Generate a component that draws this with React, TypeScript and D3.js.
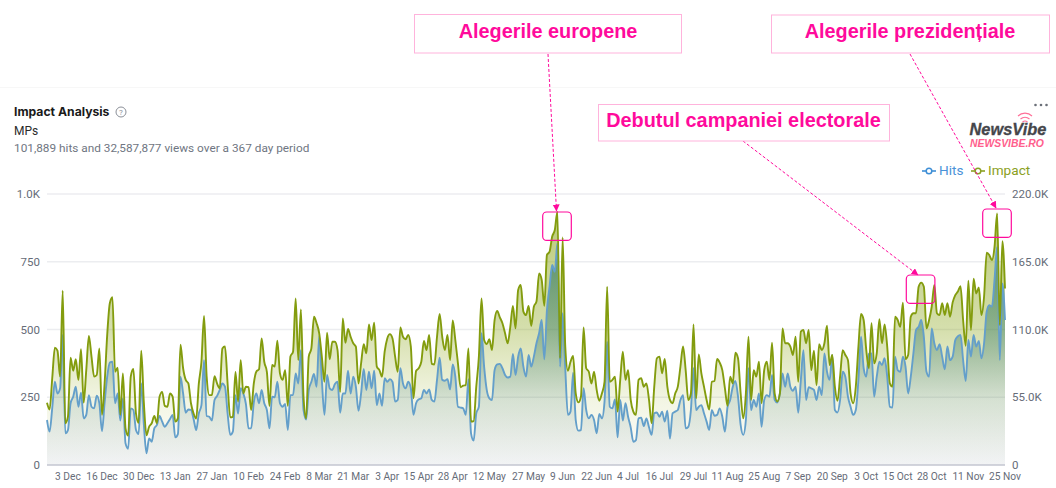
import React from "react";
import * as d3 from "d3";

const startDate = "2023-11-25";
const tickDates = ["2023-12-03","2023-12-16","2023-12-30","2024-01-13","2024-01-27","2024-02-10","2024-02-24","2024-03-08","2024-03-21","2024-04-03","2024-04-15","2024-04-28","2024-05-12","2024-05-27","2024-06-09","2024-06-22","2024-07-04","2024-07-16","2024-07-29","2024-08-11","2024-08-25","2024-09-07","2024-09-20","2024-10-03","2024-10-15","2024-10-28","2024-11-11","2024-11-25"];
const leftTicks = [0, 250, 500, 750, 1000];
const rightTicks = [0, 55000, 110000, 165000, 220000];

const hits = [
166,123,210,307,264,283,480,117,129,228,
252,289,215,267,172,185,258,215,209,256,
228,125,230,326,378,381,228,264,164,246,
80,60,209,203,129,114,301,150,43,98,
86,135,148,181,160,141,154,170,185,102,
114,326,264,193,205,203,170,129,190,221,
387,181,178,164,240,255,277,301,289,190,
111,123,258,190,283,264,225,135,135,230,
264,228,277,228,203,135,252,250,307,228,
215,225,129,258,258,338,301,424,203,168,
277,307,336,289,476,314,185,332,283,277,
299,307,193,264,264,348,264,326,289,200,
264,354,277,344,283,348,221,264,218,320,
307,317,307,234,240,357,301,283,307,283,
185,228,242,246,277,264,279,240,234,314,
396,314,311,317,279,371,326,215,212,209,
185,317,117,90,191,215,486,363,277,246,
240,350,371,373,357,332,323,326,410,332,
400,430,363,326,406,363,400,449,486,535,
390,572,658,738,713,818,363,560,357,185,
197,341,166,127,129,283,203,172,185,166,
117,188,172,234,455,215,209,242,102,240,
164,228,178,139,86,92,172,175,144,172,
139,111,191,194,178,197,160,200,98,191,
197,203,240,258,135,141,203,357,203,215,
221,191,160,129,203,182,185,209,178,123,
215,240,289,310,252,148,111,166,357,203,
240,215,264,141,240,258,252,332,240,230,
264,338,289,338,289,274,289,193,314,424,
240,287,283,277,240,289,258,412,344,314,
406,203,194,240,344,326,252,215,185,203,
314,473,357,326,412,412,252,326,381,369,
394,326,215,212,400,350,344,400,363,264,
326,412,498,510,535,473,344,326,504,449,
424,446,400,353,437,387,400,461,475,480,
387,310,461,400,480,437,458,394,449,566,
590,584,683,805,387,670,535,
];

// Impact readings, in thousandths of the right-hand axis maximum
const impactReadings = [
230,205,320,433,422,326,643,154,178,396,
348,390,314,427,230,350,476,400,326,332,
430,185,300,480,597,619,344,359,185,338,
135,108,326,354,190,156,422,230,110,141,
154,181,154,252,270,218,215,264,252,160,
172,444,357,314,301,228,190,171,300,380,
550,326,258,258,328,300,283,430,437,300,
176,178,343,234,387,264,289,287,203,300,
345,353,467,381,344,218,369,363,459,338,
314,350,218,400,418,615,387,574,252,172,
400,430,547,523,486,400,307,488,390,455,
455,424,270,541,451,502,473,449,437,301,
375,446,412,519,461,525,363,350,326,418,
467,483,467,400,344,508,473,464,480,437,
246,347,357,381,458,424,480,373,371,473,
557,473,424,480,387,533,461,375,287,293,
295,430,160,162,289,400,615,461,446,464,
424,535,568,545,523,486,449,510,587,504,
646,664,566,553,587,513,584,603,707,683,
587,775,787,843,867,935,394,840,437,348,
381,402,264,231,252,508,357,344,301,344,
277,237,264,307,658,307,314,326,197,314,
418,314,350,240,197,185,314,320,289,301,
240,154,289,394,400,338,391,289,240,228,
264,289,363,437,350,240,264,519,246,408,
338,289,240,205,307,310,391,378,350,283,
218,326,301,414,394,264,172,264,473,240,
350,326,381,228,350,381,314,451,264,234,
264,504,449,449,437,406,473,307,492,498,
449,498,350,422,295,446,424,449,514,369,
406,289,237,326,424,406,387,264,228,289,
437,557,535,424,357,523,375,412,538,449,
519,437,301,289,547,535,510,599,391,406,
547,560,560,658,673,658,504,535,584,664,
560,553,597,553,597,547,600,627,640,660,
535,440,680,498,687,633,655,553,621,783,
775,756,805,928,516,826,651,
];
const impact = impactReadings.map((v) => v * 220);

const annotations = [
  { text: "Alegerile europene", box: [414.5, 14.5, 267, 38.5], tx: 548, base: 38, from: [548, 54], to: [556.5, 211], size: 19.85 },
  { text: "Debutul campaniei electorale", box: [598.5, 104.5, 291, 36.5], tx: 743.5, base: 127, from: [743, 141], to: [918, 275], size: 19.85 },
  { text: "Alegerile prezidențiale", box: [771.5, 15, 278, 38], tx: 910, base: 38, from: [910, 54], to: [996, 208], size: 19.85 },
];
const highlights = [
  [542.7, 212], [906.3, 275], [982.7, 209],
];

const W = 1056, H = 488;
const FONT = "Roboto, Inter, sans-serif";
const parse = d3.utcParse("%Y-%m-%d");
const fmt = d3.utcFormat("%-d %b");
const start = parse(startDate) as Date;
const dates = hits.map((_, i) => d3.utcDay.offset(start, i));

const x = d3.scaleUtc().domain([start, dates[dates.length - 1]]).range([47, 1005]);
const yL = d3.scaleLinear().domain([0, 1000]).range([465, 194]);
const yR = d3.scaleLinear().domain([0, 220000]).range([465, 194]);

const lineOf = (vals: number[], y: d3.ScaleLinear<number, number>) =>
  d3.line<number>().x((_, i) => x(dates[i])).y((v) => y(v)).curve(d3.curveMonotoneX)(vals) as string;
const areaOf = (vals: number[], y: d3.ScaleLinear<number, number>) =>
  d3.area<number>().x((_, i) => x(dates[i])).y0(465).y1((v) => y(v)).curve(d3.curveMonotoneX)(vals) as string;
const fmtRight = (v: number) => (v === 0 ? "0" : (v / 1000).toFixed(1) + "K");
const fmtLeft = (v: number) => (v === 1000 ? "1.0K" : String(v));

const PINK = "#ff0a9c";
const OLIVE = "#839c0e";
const BLUE = "#649fca";

export default function App() {
  return (
    <svg width={W} height={H} style={{ position: "absolute", left: 0, top: 0, background: "#fff" }} fontFamily={FONT}>
      <defs>
        <linearGradient id="gi" gradientUnits="userSpaceOnUse" x1="0" y1="194" x2="0" y2="465">
          <stop offset="0" stopColor="#8aa51a" stopOpacity="0.62" />
          <stop offset="0.5" stopColor="#8aa51a" stopOpacity="0.36" />
          <stop offset="0.76" stopColor="#9db02a" stopOpacity="0.13" />
          <stop offset="1" stopColor="#9db02a" stopOpacity="0" />
        </linearGradient>
        <linearGradient id="gh" gradientUnits="userSpaceOnUse" x1="0" y1="194" x2="0" y2="465">
          <stop offset="0" stopColor="#1f6f5c" stopOpacity="0.78" />
          <stop offset="0.5" stopColor="#2b7460" stopOpacity="0.42" />
          <stop offset="0.76" stopColor="#3f7a78" stopOpacity="0.16" />
          <stop offset="1" stopColor="#6b7b8c" stopOpacity="0.09" />
        </linearGradient>
        <marker id="ah" markerWidth="8" markerHeight="8" refX="6.5" refY="3.5" orient="auto">
          <path d="M0,0 L7,3.5 L0,7 Z" fill={PINK} />
        </marker>
      </defs>

      <line x1="0" x2={W} y1="87.5" y2="87.5" stroke="#f7f7f7" />

      {leftTicks.slice(1).map((t) => (
        <line key={t} x1={47} x2={1005} y1={yL(t)} y2={yL(t)} stroke="#ecedf0" strokeWidth="1.3" />
      ))}
      <path d={areaOf(impact, yR)} fill="url(#gi)" />
      <path d={areaOf(hits, yL)} fill="url(#gh)" />
      <path d={lineOf(hits, yL)} fill="none" stroke={BLUE} strokeWidth="1.9" />
      <path d={lineOf(impact, yR)} fill="none" stroke={OLIVE} strokeWidth="1.9" />
      <line x1={47} x2={1005} y1={465} y2={465} stroke="#c3c6d1" strokeWidth="1.5" />

      {leftTicks.map((t) => (
        <text key={t} x={40} y={yL(t) + 4} textAnchor="end" fontSize="11.5" fill="#666c78">{fmtLeft(t)}</text>
      ))}
      {rightTicks.map((t) => (
        <text key={t} x={1012} y={yR(t) + 4} fontSize="11.5" fill="#666c78">{fmtRight(t)}</text>
      ))}
      {tickDates.map((d) => {
        const dt = parse(d) as Date;
        return (
          <text key={d} x={x(dt)} y={480} textAnchor="middle" fontSize="10.2" fill="#666c78">{fmt(dt)}</text>
        );
      })}

      <text x={14} y={116} fontSize="12.2" fontWeight="700" fill="#1a1a1a" fontFamily="Inter, Roboto, sans-serif">Impact Analysis</text>
      <circle cx={121} cy={112} r={5} fill="none" stroke="#8b8f98" strokeWidth="1" />
      <text x={121} y={115} textAnchor="middle" fontSize="8" fill="#8b8f98">?</text>
      <text x={14} y={135} fontSize="12" fill="#2b2b2b">MPs</text>
      <text x={14} y={152} fontSize="11.8" fill="#6f7682">101,889 hits and 32,587,877 views over a 367 day period</text>

      <g fill="#6b7078">
        <circle cx={1035.5} cy={105} r={1.3} /><circle cx={1041} cy={105} r={1.3} /><circle cx={1046.5} cy={105} r={1.3} />
      </g>
      <g fill="none" stroke="#ff6f98" strokeWidth="1.1">
        <path d="M1018,116 A10,10 0 0 1 1032,116" />
        <path d="M1020.5,119 A7,7 0 0 1 1029.5,119" />
        <path d="M1022.5,122 A4,4 0 0 1 1027.5,122" />
      </g>
      <text x={969.5} y={135} fontSize="16.4" fontWeight="700" fontStyle="italic" fill="#45464b" stroke="#45464b" strokeWidth="0.3" fontFamily="'Liberation Sans', sans-serif">NewsVibe</text>
      <text x={970} y={147} fontSize="10.4" fontWeight="700" fontStyle="italic" fill="#ff5f8d" fontFamily="'Liberation Sans', sans-serif">NEWSVIBE.RO</text>

      <line x1={922} x2={936} y1={171} y2={171} stroke="#3f8fd6" strokeWidth="1.6" />
      <circle cx={929} cy={171} r={2.8} fill="#fff" stroke="#3f8fd6" strokeWidth="1.5" />
      <text x={939} y={175} fontSize="13.6" fill="#4a92d8">Hits</text>
      <line x1={971} x2={985} y1={171} y2={171} stroke="#8ba023" strokeWidth="1.6" />
      <circle cx={978} cy={171} r={2.8} fill="#fff" stroke="#8ba023" strokeWidth="1.5" />
      <text x={988} y={175} fontSize="13.6" fill="#8ba023">Impact</text>

      {annotations.map((a) => (
        <g key={a.text}>
          <line x1={a.from[0]} y1={a.from[1]} x2={a.to[0]} y2={a.to[1]} stroke={PINK} strokeWidth="1" strokeDasharray="3 2" markerEnd="url(#ah)" />
          <rect x={a.box[0]} y={a.box[1]} width={a.box[2]} height={a.box[3]} fill="#fff" stroke="#ffb3dc" strokeWidth="1" />
          <text x={a.tx} y={a.base} textAnchor="middle" fontSize={a.size} fontWeight="700" fill={PINK} fontFamily="'Liberation Sans', Arial, sans-serif">{a.text}</text>
        </g>
      ))}
      {highlights.map((h) => (
        <rect key={h[0]} x={h[0]} y={h[1]} width={28.6} height={28.4} rx={4} fill="none" stroke={PINK} strokeWidth="1.2" />
      ))}
    </svg>
  );
}
